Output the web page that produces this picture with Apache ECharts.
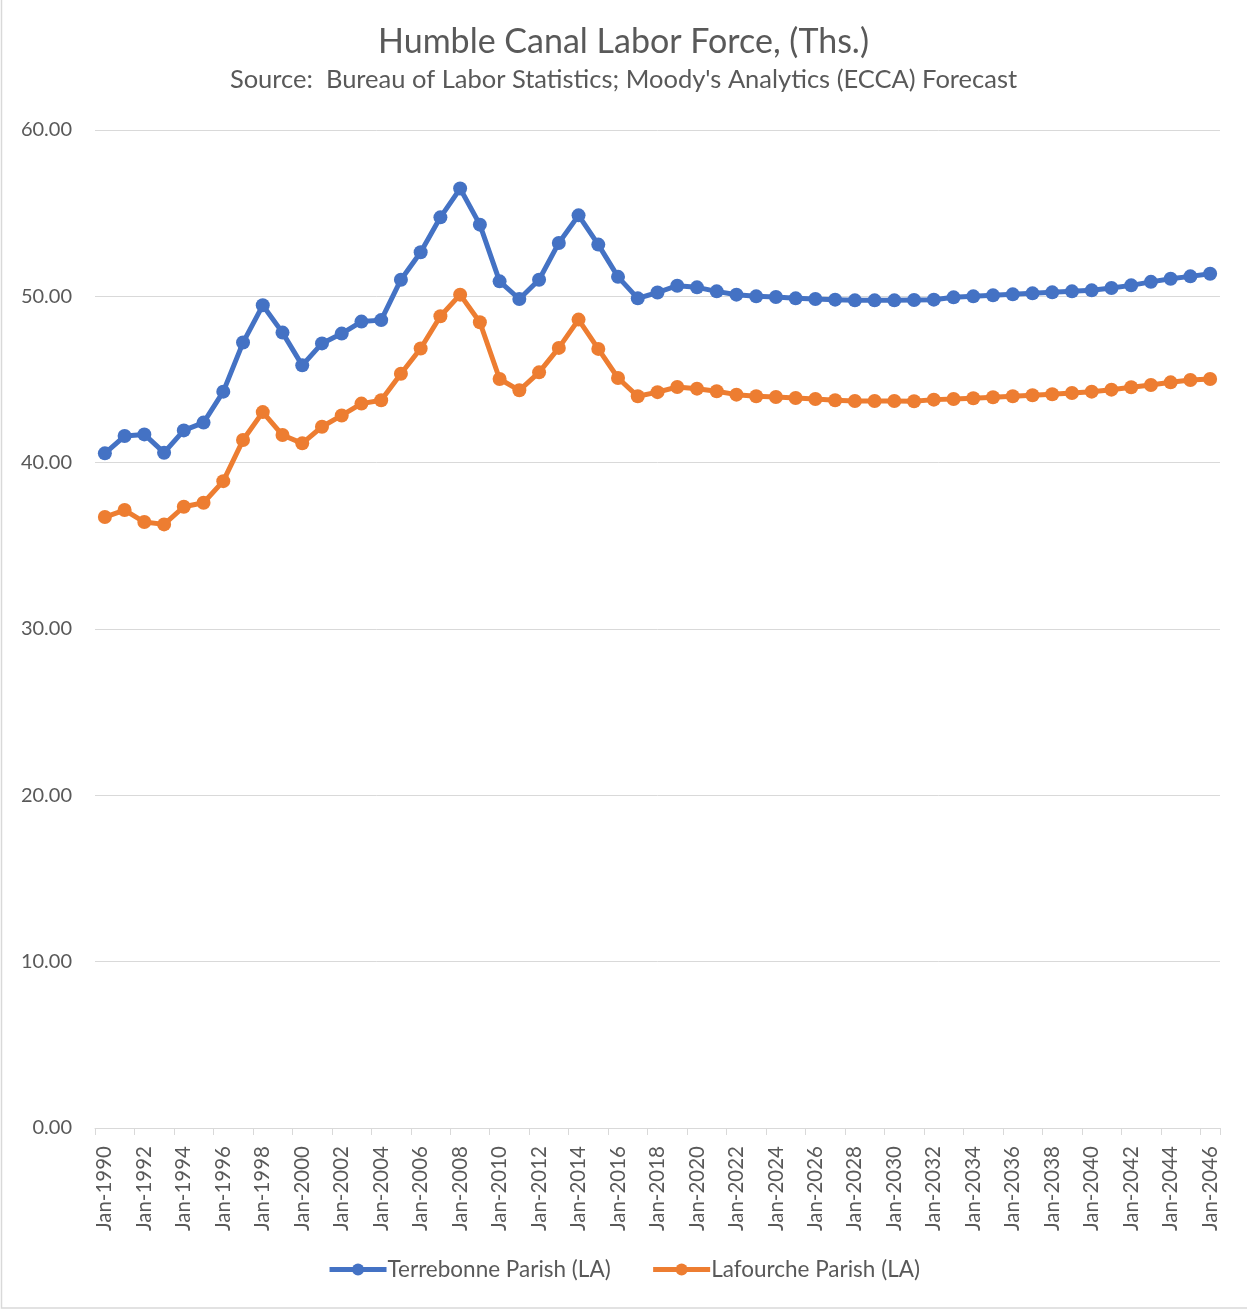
<!DOCTYPE html>
<html>
<head>
<meta charset="utf-8">
<title>Humble Canal Labor Force</title>
<script src="https://cdn.jsdelivr.net/npm/echarts@6/dist/echarts.min.js"></script>
<style>
  html, body { margin: 0; padding: 0; background: #fff; }
  #chart { width: 1247px; height: 1310px; }
</style>
</head>
<body>
<div id="chart"></div>
<script>
// 数据部分
const years = [];
for (let y = 1990; y <= 2046; y++) {
    years.push('Jan-' + y);
}

const terrebonne = [
    40.56, 41.60, 41.70, 40.60, 41.94, 42.41, 44.27, 47.22, 49.46, 47.82,
    45.85, 47.17, 47.76, 48.48, 48.57, 51.00, 52.65, 54.75, 56.48, 54.31,
    50.90, 49.84, 51.00, 53.21, 54.87, 53.11, 51.17, 49.88, 50.23, 50.64,
    50.54, 50.30, 50.10, 50.00, 49.96, 49.88, 49.84, 49.80, 49.76, 49.76,
    49.76, 49.78, 49.80, 49.94, 50.00, 50.06, 50.12, 50.18, 50.24, 50.30,
    50.36, 50.50, 50.66, 50.87, 51.06, 51.20, 51.36
];

const lafourche = [
    36.73, 37.15, 36.43, 36.29, 37.35, 37.59, 38.89, 41.36, 43.04, 41.66,
    41.16, 42.16, 42.84, 43.55, 43.75, 45.35, 46.86, 48.80, 50.10, 48.44,
    45.03, 44.35, 45.43, 46.90, 48.60, 46.84, 45.09, 43.99, 44.24, 44.55,
    44.45, 44.29, 44.09, 43.99, 43.95, 43.89, 43.83, 43.75, 43.71, 43.71,
    43.71, 43.69, 43.79, 43.83, 43.87, 43.93, 43.99, 44.05, 44.11, 44.19,
    44.27, 44.39, 44.53, 44.67, 44.83, 44.97, 45.03
];

const seriesNames = ['Terrebonne Parish (LA)', 'Lafourche Parish (LA)'];
const seriesColors = ['#4472C4', '#ED7D31'];

const font = 'Lato, "Open Sans", sans-serif';
const textColor = '#595959';
const gridColor = '#d9d9d9';

let chart = echarts.init(document.getElementById('chart'));

let lines = [terrebonne, lafourche].map(function (vals, i) {
    return {
        name: seriesNames[i],
        type: 'line',
        data: vals,
        color: seriesColors[i],
        symbol: 'circle',
        symbolSize: 14,
        showSymbol: true,
        showAllSymbol: true,
        lineStyle: { width: 5, color: seriesColors[i] },
        itemStyle: { color: seriesColors[i] },
        animation: false
    };
});

let option = {
    backgroundColor: '#fff',
    textStyle: { fontFamily: font },
    title: {
        text: 'Humble Canal Labor Force, (Ths.)',
        subtext: 'Source:  Bureau of Labor Statistics; Moody\'s Analytics (ECCA) Forecast',
        left: 'center',
        top: 20,
        itemGap: 8,
        textStyle: { fontFamily: font, fontSize: 34, fontWeight: 'normal', color: textColor },
        subtextStyle: { fontFamily: font, fontSize: 25.5, color: textColor }
    },
    legend: {
        data: seriesNames,
        bottom: 24,
        left: 'center',
        itemWidth: 57,
        itemHeight: 15,
        itemGap: 40,
        lineStyle: { width: 5 },
        textStyle: { fontFamily: font, fontSize: 22.5, color: textColor, padding: [0, 0, 0, -4] }
    },
    grid: {
        left: 95,
        right: 27,
        top: 130,
        bottom: 182,
        containLabel: false
    },
    xAxis: {
        type: 'category',
        data: years,
        boundaryGap: true,
        axisLine: { lineStyle: { color: gridColor, width: 1 } },
        axisTick: { show: true, interval: 1, length: 7, lineStyle: { color: gridColor } },
        axisLabel: {
            interval: 1,
            rotate: 90,
            margin: 18,
            fontFamily: font,
            fontSize: 20.5,
            color: textColor
        },
        splitLine: { show: false }
    },
    yAxis: {
        type: 'value',
        min: 0,
        max: 60,
        interval: 10,
        axisLine: { show: false },
        axisTick: { show: false },
        axisLabel: {
            margin: 23,
            fontFamily: font,
            fontSize: 20,
            color: textColor,
            formatter: function (v) { return v.toFixed(2); }
        },
        splitLine: { lineStyle: { color: gridColor, width: 1 } }
    },
    graphic: [{
        type: 'rect',
        shape: { x: 1.5, y: -10, width: 1300, height: 1318 },
        style: { fill: 'none', stroke: gridColor, lineWidth: 1.5 },
        silent: true
    }],
    series: lines
};

chart.setOption(option);
</script>
</body>
</html>
